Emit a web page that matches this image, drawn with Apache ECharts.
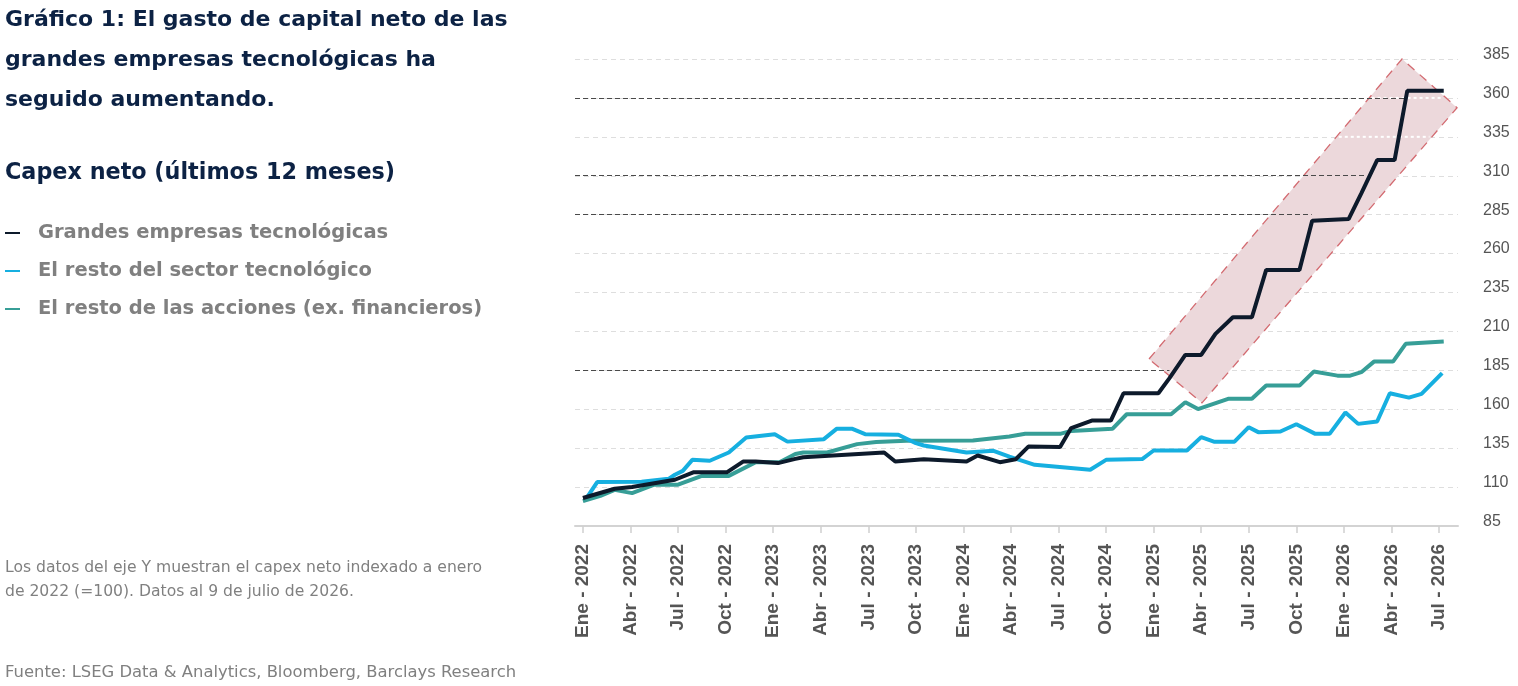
<!DOCTYPE html>
<html>
<head>
<meta charset="utf-8">
<script src="https://cdn.jsdelivr.net/npm/echarts@6/dist/echarts.min.js"></script>
<style>
html,body{margin:0;padding:0;background:#fff;}
#chart{width:1518px;height:686px;}
</style>
</head>
<body>
<div id="chart"></div>
<script>
// ---- Data (x = months since Jan 2022, y = net capex index, Jan 2022 = 100) ----
const tickMonths = [0,3,6,9,12,15,18,21,24,27,30,33,36,39,42,45,48,51,54];
const tickLabels = ['Ene - 2022','Abr - 2022','Jul - 2022','Oct - 2022','Ene - 2023','Abr - 2023','Jul - 2023','Oct - 2023','Ene - 2024','Abr - 2024','Jul - 2024','Oct - 2024','Ene - 2025','Abr - 2025','Jul - 2025','Oct - 2025','Ene - 2026','Abr - 2026','Jul - 2026'];

const bigTechMonths = [0,2.0,3.1,5.8,7.0,9.1,10.1,10.9,12.3,13.4,13.9,19.0,19.7,21.5,24.2,24.9,26.3,27.3,28.1,30.1,30.8,32.1,33.3,34.1,36.3,37.0,38.0,39.0,39.9,41.0,42.2,43.1,45.2,46.0,48.3,49.1,50.1,51.2,52.0,54.3];
const bigTechValues = [103,108.9,110,114.7,119.6,119.6,126.4,126.4,125.4,128.1,129.2,132.2,126.4,127.9,126.4,130.3,126,127.9,136,135.7,147.9,152.7,152.7,170.3,170.3,180,194.9,194.9,208.4,219.1,219.1,249.5,249.5,281.1,282.2,298.7,320.1,320.1,364.6,364.6];

const techMonths = [0.3,0.9,3.7,5.4,5.8,6.3,6.9,8.0,9.2,10.3,12.1,12.9,15.2,16.0,17.0,17.8,19.9,21.0,21.5,24.2,25.9,26.9,28.5,32.0,33.0,35.3,36.0,38.1,39.0,39.8,41.1,42.0,42.6,44.0,45.0,46.2,47.1,48.1,48.9,50.1,50.9,52.1,52.9,54.2];
const techValues = [104,113.2,113.4,115.3,117.9,120.4,127.5,126.9,132.2,141.8,144,139.2,140.8,147.4,147.4,144,143.6,138.2,136.7,132.2,133.3,129.6,124.3,121.1,127.5,128.1,133.5,133.5,142.1,139.2,139.2,148.5,145.3,145.7,150.4,144.2,144.2,157.9,150.6,152.1,170.3,167.5,169.9,183.2];

const restMonths = [0,1.1,2.0,3.1,4.5,6.0,7.5,9.2,10.9,12.4,13.4,13.9,15.4,17.3,18.5,20.4,24.6,26.9,27.9,30.1,30.8,33.4,34.3,37.1,38.0,38.8,40.7,42.2,43.1,45.2,46.1,47.6,48.4,49.1,49.9,51.1,51.9,54.3];
const restValues = [101,104.4,108.2,106.1,111.5,111.5,117.2,117.2,126,126,131.2,132.2,132.2,137.6,138.9,139.7,139.9,142.5,144.2,144.2,146.1,147.4,156.8,156.8,164.5,160.1,166.7,166.7,175.2,175.2,184.2,181.6,181.6,183.8,190.6,190.6,202,203.5];

const seriesNames = ['Grandes empresas tecnológicas','El resto del sector tecnológico','El resto de las acciones (ex. financieros)'];

// Highlight band (annotation) corners in data units [month, index]
const bandCorners = [[35.71,192.3],[51.67,385],[55.14,353.7],[39.05,164.1]];
// Levels whose gridline is drawn darker up to where the big-tech line reaches them
const darkLevels = [185,285,310,360];
// Levels whose gridline shows as white dots inside the band
const whiteLevels = [335,360];

// ---- Build ----
const zip = (xs, ys) => xs.map((x, i) => [x, ys[i]]);
const bigTech = zip(bigTechMonths, bigTechValues);
const tech = zip(techMonths, techValues);
const rest = zip(restMonths, restValues);

function reachX(level) {
  const t = level - 5;
  for (let i = 1; i < bigTech.length; i++) {
    const [x0, y0] = bigTech[i - 1], [x1, y1] = bigTech[i];
    if (y0 < t && y1 >= t) return x0 + (t - y0) / (y1 - y0) * (x1 - x0);
  }
  return bigTech[bigTech.length - 1][0];
}
function bandSpan(level) {
  const xs = [];
  for (let i = 0; i < bandCorners.length; i++) {
    const [x0, y0] = bandCorners[i], [x1, y1] = bandCorners[(i + 1) % bandCorners.length];
    if ((y0 - level) * (y1 - level) <= 0 && y0 !== y1) xs.push(x0 + (level - y0) / (y1 - y0) * (x1 - x0));
  }
  return [Math.min(...xs), Math.max(...xs)];
}
const X_MIN = -0.5, X_MAX = 55.2;
const darkLineData = darkLevels.map(l => [{coord: [X_MIN, l]}, {coord: [reachX(l), l]}]);

const navy = '#0c2244';
const cBig = '#0d1a2b', cTech = '#16afe0', cRest = '#379e97';

const chart = echarts.init(document.getElementById('chart'), null, {renderer: 'canvas'});
chart.setOption({
  animation: false,
  backgroundColor: '#ffffff',
  title: [
    {
      text: 'Gráfico 1: El gasto de capital neto de las\ngrandes empresas tecnológicas ha\nseguido aumentando.',
      left: 0, top: -5,
      textStyle: {fontFamily: 'DejaVu Sans', fontWeight: 'bold', fontSize: 22, color: navy, lineHeight: 40}
    },
    {
      text: 'Capex neto (últimos 12 meses)',
      left: 0, top: 153,
      textStyle: {fontFamily: 'DejaVu Sans', fontWeight: 'bold', fontSize: 22.3, color: navy, lineHeight: 30}
    },
    {
      text: 'Los datos del eje Y muestran el capex neto indexado a enero\nde 2022 (=100). Datos al 9 de julio de 2026.',
      left: 0, top: 551,
      textStyle: {fontFamily: 'DejaVu Sans', fontWeight: 'normal', fontSize: 15.6, color: '#808080', lineHeight: 24}
    },
    {
      text: 'Fuente: LSEG Data & Analytics, Bloomberg, Barclays Research',
      left: 0, top: 656,
      textStyle: {fontFamily: 'DejaVu Sans', fontWeight: 'normal', fontSize: 16.4, color: '#808080', lineHeight: 24}
    }
  ],
  legend: {
    orient: 'vertical',
    left: 0, top: 217,
    icon: 'rect',
    itemWidth: 15, itemHeight: 2,
    itemGap: 16,
    selectedMode: false,
    data: seriesNames,
    textStyle: {fontFamily: 'DejaVu Sans', fontWeight: 'bold', fontSize: 19.5, color: '#808080', lineHeight: 22, padding: [0, 0, 0, 13]}
  },
  grid: {left: 575, right: 60, top: 59, bottom: 160, containLabel: false},
  xAxis: {
    type: 'value',
    min: X_MIN, max: X_MAX,
    splitLine: {show: false},
    axisLine: {show: true, lineStyle: {color: '#d3d3d3', width: 2}},
    axisTick: {show: true, customValues: tickMonths, length: 7, lineStyle: {color: '#cfcfcf', width: 1.5}},
    axisLabel: {
      customValues: tickMonths,
      rotate: 90, margin: 18,
      fontFamily: 'Liberation Sans', fontWeight: 'bold', fontSize: 19, color: '#555555',
      formatter: v => { const i = tickMonths.indexOf(Math.round(v)); return i >= 0 ? tickLabels[i] : ''; }
    }
  },
  yAxis: {
    type: 'value',
    position: 'right',
    min: 85, max: 385, interval: 25,
    axisLine: {show: false},
    axisTick: {show: false},
    axisLabel: {margin: 25, fontFamily: 'Liberation Sans', fontSize: 16, color: '#555555', verticalAlign: 'bottom', lineHeight: 9},
    splitLine: {show: true, lineStyle: {color: '#dedede', width: 1, type: [5, 4]}}
  },
  series: [
    {
      type: 'custom',
      name: 'band',
      silent: true,
      z: 1,
      data: [0],
      renderItem: (params, api) => {
        const children = [{
          type: 'polygon',
          shape: {points: bandCorners.map(c => api.coord(c))},
          style: {fill: '#ecd8db', stroke: '#d36a70', lineWidth: 1.3, lineDash: [9, 7]}
        }];
        whiteLevels.forEach(l => {
          const s = bandSpan(l);
          const p0 = api.coord([s[0] + 0.15, l]), p1 = api.coord([s[1] - 0.15, l]);
          children.push({
            type: 'line',
            shape: {x1: p0[0], y1: p0[1], x2: p1[0], y2: p1[1]},
            style: {stroke: '#ffffff', lineWidth: 2, lineDash: [3, 3]}
          });
        });
        return {type: 'group', children};
      }
    },
    {
      name: seriesNames[2], type: 'line', data: rest, showSymbol: false, z: 3,
      lineStyle: {color: cRest, width: 4}, itemStyle: {color: cRest}
    },
    {
      name: seriesNames[1], type: 'line', data: tech, showSymbol: false, z: 4,
      lineStyle: {color: cTech, width: 4}, itemStyle: {color: cTech}
    },
    {
      name: seriesNames[0], type: 'line', data: bigTech, showSymbol: false, z: 5,
      lineStyle: {color: cBig, width: 4}, itemStyle: {color: cBig},
      markLine: {
        silent: true, symbol: 'none', label: {show: false}, z: 2,
        lineStyle: {color: '#4a4a4a', width: 1, type: [5, 3]},
        data: darkLineData
      }
    }
  ]
});
</script>
</body>
</html>
